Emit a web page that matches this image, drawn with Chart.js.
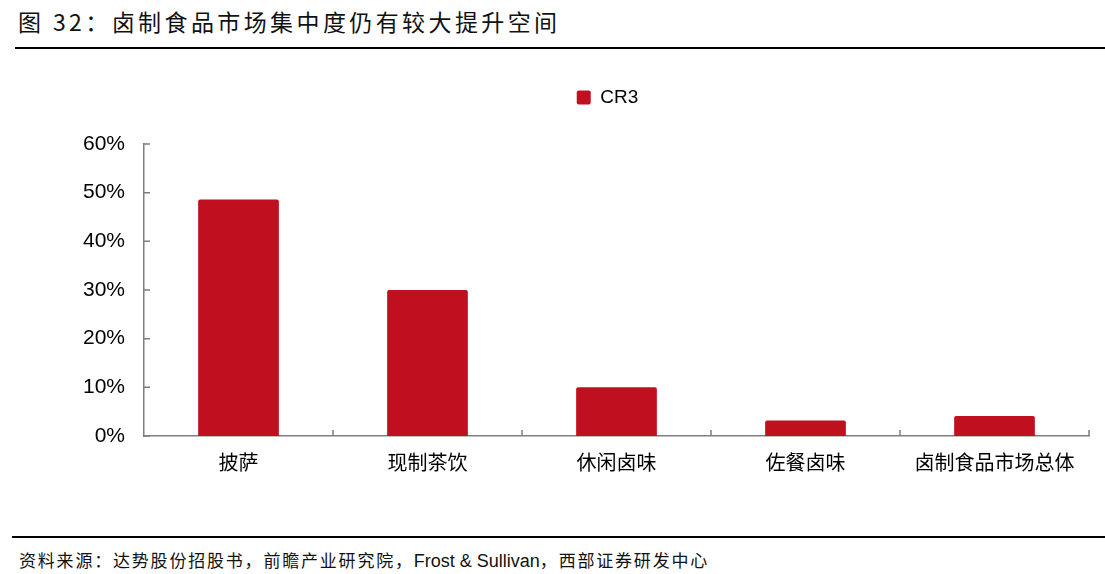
<!DOCTYPE html>
<html>
<head>
<meta charset="utf-8">
<script src="https://cdn.jsdelivr.net/npm/chart.js@4.4.1/dist/chart.umd.min.js"></script>
<style>
  html, body { margin: 0; padding: 0; background: #fff; }
  body { width: 1105px; height: 574px; position: relative; overflow: hidden; font-family: "Noto Sans CJK SC", sans-serif; }
  #title { position: absolute; left: 18px; top: 10px; font-size: 23px; line-height: 1; letter-spacing: 3.4px; color: #111; white-space: nowrap; }
  #titleLine { position: absolute; left: 15px; right: 0; top: 47px; height: 2px; background: #000; }
  #chartBox { position: absolute; left: 0; top: 50px; width: 1105px; height: 480px; }
  #footLine { position: absolute; left: 12px; right: 0; top: 536px; height: 2px; background: #000; }
  #source { position: absolute; left: 19px; top: 551px; font-size: 17px; line-height: 1; letter-spacing: 1.8px; color: #111; white-space: nowrap; }
  #source .en { font-family: "Liberation Sans", Arial, sans-serif; font-size: 18px; letter-spacing: 0; }
</style>
</head>
<body>
<div id="title">图 32：卤制食品市场集中度仍有较大提升空间</div>
<div id="titleLine"></div>
<div id="chartBox"><canvas id="cr3Chart"></canvas></div>
<div id="footLine"></div>
<div id="source">资料来源：达势股份招股书，前瞻产业研究院，<span class="en">Frost &amp; Sullivan</span>，西部证券研发中心</div>

<script>
// Datos del gráfico
const categories = ['披萨', '现制茶饮', '休闲卤味', '佐餐卤味', '卤制食品市场总体'];
const cr3Values = [48.6, 30.0, 10.0, 3.2, 4.1];
const seriesName = 'CR3';
const yMin = 0;
const yMax = 60;
const yStep = 10;

const barColor = '#C00F1E';
const axisColor = '#7f7f7f';

// Marcas de eje hacia dentro (como en el original)
const innerTicks = {
    id: 'innerTicks',
    afterLayout(chart) {
        // la leyenda se centra sobre el área desde x=126, como en el original
        if (chart.legend) chart.legend.left = 126;
    },
    afterDraw(chart) {
        const { ctx, chartArea, scales } = chart;
        const len = 6;
        ctx.save();
        ctx.strokeStyle = axisColor;
        ctx.lineWidth = 1.5;
        ctx.beginPath();
        scales.y.ticks.forEach(t => {
            const y = scales.y.getPixelForValue(t.value);
            ctx.moveTo(chartArea.left, y);
            ctx.lineTo(chartArea.left + len, y);
        });
        const n = categories.length;
        for (let i = 1; i <= n; i++) {
            const x = scales.x.getPixelForValue(i - 0.5);
            ctx.moveTo(x, chartArea.bottom);
            ctx.lineTo(x, chartArea.bottom - len);
        }
        ctx.stroke();
        ctx.restore();
    }
};

let chart;
try {
    const ctx = document.getElementById('cr3Chart').getContext('2d');
    chart = new Chart(ctx, {
        type: 'bar',
        data: {
            labels: categories,
            datasets: [{
                label: seriesName,
                data: cr3Values,
                xAxisID: 'x',
                yAxisID: 'y',
                backgroundColor: barColor,
                borderRadius: 2,
                categoryPercentage: 1,
                barPercentage: 0.427
            }]
        },
        options: {
            responsive: true,
            maintainAspectRatio: false,
            animation: false,
            layout: { padding: { top: 1, right: 16, left: 0, bottom: 0 } },
            plugins: {
                legend: {
                    display: true,
                    position: 'top',
                    labels: {
                        boxWidth: 14,
                        boxHeight: 14,
                        useBorderRadius: true,
                        borderRadius: 2,
                        padding: 37,
                        color: '#000',
                        font: { family: '"Liberation Sans", Arial, sans-serif', size: 19 }
                    }
                },
                tooltip: { enabled: false }
            },
            scales: {
                x: {
                    grid: { display: false, drawTicks: false },
                    border: { display: true, color: axisColor, width: 1.5 },
                    ticks: {
                        padding: 14,
                        color: '#000',
                        font: { family: '"Noto Sans CJK SC", sans-serif', size: 20 },
                        maxRotation: 0
                    },
                    afterFit(scale) { scale.height = 94; }
                },
                // eje vacío arriba: solo deja espacio entre leyenda y gráfico
                gap: {
                    type: 'category',
                    position: 'top',
                    grid: { display: false, drawTicks: false },
                    border: { display: false },
                    ticks: { display: false },
                    afterFit(scale) { scale.height = 27; }
                },
                y: {
                    min: yMin,
                    max: yMax,
                    grid: { display: false, drawTicks: false },
                    border: { display: true, color: axisColor, width: 1.5 },
                    ticks: {
                        stepSize: yStep,
                        padding: 19,
                        color: '#000',
                        font: { family: '"Liberation Sans", Arial, sans-serif', size: 21 },
                        callback: v => v + '%'
                    },
                    afterFit(scale) { scale.width = 144; }
                }
            }
        },
        plugins: [innerTicks]
    });
} catch (err) {
    console.error('Error al crear el gráfico:', err.message);
}
</script>
</body>
</html>
